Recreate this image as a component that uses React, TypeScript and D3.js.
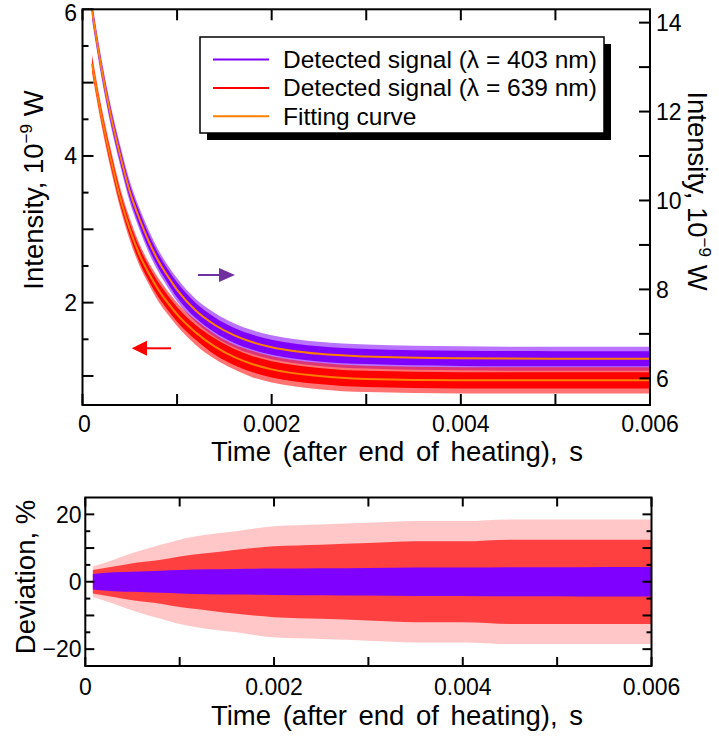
import React from "react";
import * as d3 from "d3";

// ---------- data ----------
const timeGrid = [0.0001, 0.0002, 0.0003, 0.0004, 0.0005, 0.0006, 0.0007, 0.0008, 0.0009, 0.001,
  0.0012, 0.0014, 0.0016, 0.0018, 0.002, 0.0025, 0.003, 0.004, 0.005, 0.006];
// 639 nm signal fit (left axis, 1e-9 W)
const redFit = [5.26, 4.55, 3.95, 3.42, 3.0, 2.66, 2.4, 2.18, 2.0, 1.84,
  1.59, 1.4, 1.26, 1.16, 1.09, 1.0, 0.96, 0.94, 0.94, 0.94];
// 403 nm signal fit (right axis, 1e-9 W)
const purpleFit = [14.28, 12.98, 11.9, 11.0, 10.2, 9.6, 9.08, 8.65, 8.3, 7.99,
  7.52, 7.2, 6.97, 6.81, 6.7, 6.55, 6.49, 6.45, 6.44, 6.44];
// noise envelope half-widths of the detected signals (dense part / spikes)
const redNoiseCore = [0.08, 0.08, 0.09, 0.09, 0.09, 0.1, 0.1, 0.1, 0.1, 0.1,
  0.1, 0.11, 0.11, 0.11, 0.11, 0.11, 0.11, 0.11, 0.11, 0.11];
const redNoiseSpike = [0.13, 0.13, 0.14, 0.14, 0.15, 0.15, 0.15, 0.16, 0.16, 0.16,
  0.17, 0.17, 0.17, 0.18, 0.18, 0.18, 0.18, 0.18, 0.18, 0.18];
const purpleNoiseCore = [0.14, 0.14, 0.15, 0.15, 0.15, 0.16, 0.16, 0.16, 0.16, 0.17,
  0.17, 0.17, 0.17, 0.17, 0.17, 0.17, 0.17, 0.17, 0.17, 0.17];
const purpleNoiseSpike = [0.22, 0.22, 0.23, 0.23, 0.24, 0.24, 0.25, 0.25, 0.25, 0.26,
  0.26, 0.27, 0.27, 0.27, 0.27, 0.27, 0.27, 0.27, 0.27, 0.27];

// deviation panel envelopes (%)
const devTime = [0.00008, 0.0003, 0.0005, 0.0008, 0.001, 0.0013, 0.0016, 0.002, 0.0025,
  0.003, 0.0035, 0.004, 0.0045, 0.005, 0.0055, 0.006];
const purpleDevBand = [2.3, 2.8, 3.0, 3.3, 3.5, 3.7, 3.8, 3.9, 4.0, 4.1, 4.2, 4.2, 4.3, 4.3, 4.4, 4.4];
const redDevCore = [3.5, 4.5, 5.5, 6.5, 7.5, 8.5, 9.5, 10.5, 11, 11.5, 12, 12, 12.5, 12.5, 12.5, 12.5];
const redDevOuter = [4.5, 6.5, 8.5, 11, 12.5, 14, 15, 16.5, 17, 17.5, 18, 18, 18.5, 18.5, 18.5, 18.5];

// ticks
const xTicks = [0, 0.001, 0.002, 0.003, 0.004, 0.005, 0.006];
const xTickLabels = ["0", "0.002", "0.004", "0.006"];
const xLabelValues = [0, 0.002, 0.004, 0.006];
const leftMajor = [1, 2, 3, 4, 5, 6];
const leftMinor = [1.5, 2.5, 3.5, 4.5, 5.5];
const leftLabels = [2, 4, 6];
const rightTicks = [6, 7, 8, 9, 10, 11, 12, 13, 14];
const rightLabels = [6, 8, 10, 12, 14];
const devMajor = [-20, -10, 0, 10, 20];
const devMinor = [-15, -5, 5, 15];
const devLabels = [-20, 0, 20];

const legendLabels = [
  "Detected signal (\u03bb = 403 nm)",
  "Detected signal (\u03bb = 639 nm)",
  "Fitting curve",
];

// ---------- styles ----------
const PURPLE = "#8000ff";
const RED = "#ff0000";
const ORANGE = "#ff8000";
const ARROW_PURPLE = "#7030a0";
const FONT = "'Liberation Sans', Arial, Helvetica, sans-serif";

export default function App() {
  const W = 719, H = 736;

  // top panel
  const x1 = d3.scaleLinear().domain([0, 0.006]).range([82.5, 650]);
  const yL = d3.scaleLinear().domain([0.604, 6]).range([405, 9.3]);
  const yR = d3.scaleLinear().domain([5.4, 14.3]).range([405, 9.3]);
  const top1 = 9.3, bot1 = 405;

  // bottom panel
  const x2 = d3.scaleLinear().domain([0, 0.006]).range([85.3, 651.5]);
  const yD = d3.scaleLinear().domain([-25, 25]).range([666, 497.5]);
  const top2 = 497.5, bot2 = 666;

  const idx = timeGrid.map((_, i) => i);
  const bandTop = (y: any, fit: number[], hw: number[]) =>
    d3.area<number>()
      .x((i) => x1(timeGrid[i]))
      .y0((i) => y(fit[i] - hw[i]))
      .y1((i) => y(fit[i] + hw[i]))
      .curve(d3.curveMonotoneX)(idx) || "";
  const fitLine = (y: any, fit: number[]) =>
    d3.line<number>()
      .x((i) => x1(timeGrid[i]))
      .y((i) => y(fit[i]))
      .curve(d3.curveMonotoneX)(idx) || "";

  const didx = devTime.map((_, i) => i);
  const devBand = (hw: number[]) =>
    d3.area<number>()
      .x((i) => x2(devTime[i]))
      .y0((i) => yD(-hw[i]))
      .y1((i) => yD(hw[i]))
      .curve(d3.curveMonotoneX)(didx) || "";

  const ax = { stroke: "#000", strokeWidth: 2 };

  return (
    <svg width={W} height={H} style={{ position: "absolute", left: 0, top: 0, background: "#fff" }}
      fontFamily={FONT}>
      <defs>
        <clipPath id="clipTop">
          <rect x={x1(0)} y={top1} width={x1(0.006) - x1(0)} height={bot1 - top1} />
        </clipPath>
        <clipPath id="clipBot">
          <rect x={x2(0)} y={top2} width={x2(0.006) - x2(0)} height={bot2 - top2} />
        </clipPath>
      </defs>

      {/* ---------------- top panel ---------------- */}
      <g clipPath="url(#clipTop)">
        <path d={bandTop(yR, purpleFit, purpleNoiseSpike)} fill={PURPLE} opacity={0.55} />
        <path d={bandTop(yR, purpleFit, purpleNoiseCore)} fill={PURPLE} />
        <path d={bandTop(yL, redFit, redNoiseSpike)} fill={RED} opacity={0.55} />
        <path d={bandTop(yL, redFit, redNoiseCore)} fill={RED} />
        <path d={fitLine(yR, purpleFit)} fill="none" stroke={ORANGE} strokeWidth={2} />
        <path d={fitLine(yL, redFit)} fill="none" stroke={ORANGE} strokeWidth={2} />
      </g>

      {/* frame */}
      <rect x={x1(0)} y={top1} width={x1(0.006) - x1(0)} height={bot1 - top1} fill="none" {...ax} />
      {/* x ticks (bottom & top, inward) */}
      {xTicks.map((t) => (
        <g key={"xt" + t}>
          <line x1={x1(t)} x2={x1(t)} y1={bot1} y2={bot1 - 11} {...ax} />
          <line x1={x1(t)} x2={x1(t)} y1={top1} y2={top1 + 11} {...ax} />
        </g>
      ))}
      {xLabelValues.map((t, i) => (
        <text key={"xl" + t} x={x1(t) + (t === 0 ? 2 : 0)} y={432} fontSize={23} textAnchor="middle">
          {xTickLabels[i]}
        </text>
      ))}
      {/* left ticks */}
      {leftMajor.map((v) => (
        <line key={"lm" + v} x1={x1(0)} x2={x1(0) + 11} y1={yL(v)} y2={yL(v)} {...ax} />
      ))}
      {leftMinor.map((v) => (
        <line key={"ln" + v} x1={x1(0)} x2={x1(0) + 6} y1={yL(v)} y2={yL(v)} {...ax} />
      ))}
      {leftLabels.map((v) => (
        <text key={"ll" + v} x={77} y={yL(v) + (v === 6 ? 3.2 : 0)} dy="0.36em" fontSize={23} textAnchor="end">{v}</text>
      ))}
      {/* right ticks */}
      {rightTicks.map((v) => (
        <line key={"rt" + v} x1={x1(0.006)} x2={x1(0.006) - 11} y1={yR(v)} y2={yR(v)} {...ax} />
      ))}
      {rightLabels.map((v) => (
        <text key={"rl" + v} x={656} y={yR(v)} dy="0.36em" fontSize={23} textAnchor="start">{v}</text>
      ))}

      {/* axis titles */}
      <text x={397} y={461} fontSize={27.5} textAnchor="middle" wordSpacing={4}>Time (after end of heating), s</text>
      <text transform="translate(43,190) rotate(-90)" fontSize={27.5} textAnchor="middle">
        Intensity, 10<tspan fontSize={17} dy={-11}>{"\u2212"}9</tspan><tspan dy={11}> W</tspan>
      </text>
      <text transform="translate(688,191) rotate(90)" fontSize={27.5} textAnchor="middle">
        Intensity, 10<tspan fontSize={17} dy={-11}>{"\u2212"}9</tspan><tspan dy={11}> W</tspan>
      </text>

      {/* arrows */}
      <g>
        <line x1={198} x2={221} y1={275} y2={275} stroke={ARROW_PURPLE} strokeWidth={2} />
        <path d="M219,268 L235,275 L219,282 Z" fill={ARROW_PURPLE} />
        <line x1={146} x2={171} y1={348.3} y2={348.3} stroke={RED} strokeWidth={2} />
        <path d="M147,340.8 L131.7,348.3 L147,355.8 Z" fill={RED} />
      </g>

      {/* legend */}
      <g>
        <rect x={207} y={44} width={404} height={96} fill="#000" />
        <rect x={200} y={37} width={404} height={96} fill="#fff" stroke="#000" strokeWidth={1.5} />
        {legendLabels.map((lab, i) => {
          const y = 59.5 + i * 28.4;
          const col = [PURPLE, RED, ORANGE][i];
          return (
            <g key={lab}>
              <line x1={213} x2={269} y1={y} y2={y} stroke={col} strokeWidth={2} />
              <text x={283} y={y + 8.5} fontSize={24.5}>{lab}</text>
            </g>
          );
        })}
      </g>

      {/* ---------------- bottom panel ---------------- */}
      <g clipPath="url(#clipBot)">
        <path d={devBand(redDevOuter)} fill={RED} opacity={0.22} />
        <path d={devBand(redDevCore)} fill={RED} opacity={0.68} />
        <path d={devBand(purpleDevBand)} fill={PURPLE} />
      </g>
      <rect x={x2(0)} y={top2} width={x2(0.006) - x2(0)} height={bot2 - top2} fill="none" {...ax} />
      {xTicks.map((t) => (
        <g key={"bt" + t}>
          <line x1={x2(t)} x2={x2(t)} y1={bot2} y2={bot2 - 9} {...ax} />
          <line x1={x2(t)} x2={x2(t)} y1={top2} y2={top2 + 9} {...ax} />
        </g>
      ))}
      {xLabelValues.map((t, i) => (
        <text key={"bl" + t} x={x2(t)} y={695} fontSize={23} textAnchor="middle">{xTickLabels[i]}</text>
      ))}
      {devMajor.map((v) => (
        <g key={"dm" + v}>
          <line x1={x2(0)} x2={x2(0) + 9} y1={yD(v)} y2={yD(v)} {...ax} />
          <line x1={x2(0.006)} x2={x2(0.006) - 9} y1={yD(v)} y2={yD(v)} {...ax} />
        </g>
      ))}
      {devMinor.map((v) => (
        <g key={"dn" + v}>
          <line x1={x2(0)} x2={x2(0) + 5} y1={yD(v)} y2={yD(v)} {...ax} />
          <line x1={x2(0.006)} x2={x2(0.006) - 5} y1={yD(v)} y2={yD(v)} {...ax} />
        </g>
      ))}
      {devLabels.map((v) => (
        <text key={"dl" + v} x={81.5} y={yD(v)} dy="0.36em" fontSize={23} textAnchor="end">
          {v < 0 ? "\u2212" + Math.abs(v) : String(v)}
        </text>
      ))}
      <text x={397} y={725} fontSize={27.5} textAnchor="middle" wordSpacing={4}>Time (after end of heating), s</text>
      <text transform="translate(35,577) rotate(-90)" fontSize={27.5} textAnchor="middle">Deviation, %</text>
    </svg>
  );
}
